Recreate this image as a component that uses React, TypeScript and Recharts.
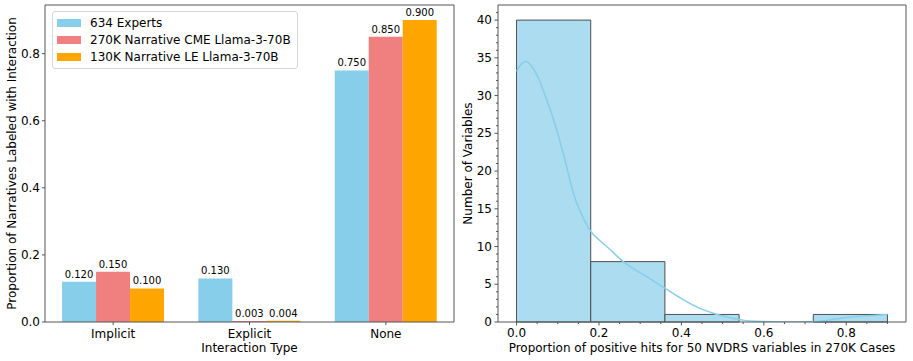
import React from 'react';
import { BarChart, Bar, XAxis, YAxis, Legend, LabelList, ComposedChart, Line, ReferenceArea } from 'recharts';

const FONT = '"DejaVu Sans", Verdana, sans-serif';
const AXIS = '#555';

// left panel: interaction type proportions
const categories = ['Implicit', 'Explicit', 'None'];
const seriesNames = ['634 Experts', '270K Narrative CME Llama-3-70B', '130K Narrative LE Llama-3-70B'];
const experts = [0.12, 0.13, 0.75];
const cmeLlama = [0.15, 0.003, 0.85];
const leLlama = [0.1, 0.004, 0.9];
const propTicks = [0, 0.2, 0.4, 0.6, 0.8];

// right panel: histogram + kde
const binEdges = [0, 0.18, 0.36, 0.54, 0.72, 0.9];
const binCounts = [40, 8, 1, 0, 1];
const kdeX = [0, 0.012, 0.023, 0.035, 0.054, 0.07, 0.087, 0.115, 0.14, 0.16, 0.18, 0.2, 0.225, 0.259, 0.31, 0.36, 0.4, 0.445, 0.477, 0.51, 0.542, 0.598, 0.65, 0.713, 0.75, 0.786, 0.84, 0.9];
const kdeY = [33.2, 34.2, 34.5, 34.0, 32.2, 29.9, 27.3, 22.0, 16.7, 14.0, 12.0, 10.9, 9.7, 8.0, 6.2, 4.5, 3.1, 1.8, 1.15, 0.65, 0.3, 0.05, 0.0, 0.03, 0.2, 0.5, 0.78, 1.0];
const hitMajorTicks = [0, 0.2, 0.4, 0.6, 0.8];
const countMajorTicks = [0, 5, 10, 15, 20, 25, 30, 35, 40];

// minor tick positions (0.05 on x, 1 on y)
const hitTicks = Array.from({ length: 19 }, (_, i) => Math.round(i * 5) / 100);
const countTicks = Array.from({ length: 42 }, (_, i) => i);

const barData = categories.map((name, i) => ({ name, experts: experts[i], cme: cmeLlama[i], le: leLlama[i] }));
const kdeData = kdeX.map((x, i) => ({ x, y: kdeY[i] }));

const LegendBox = ({ payload }: any) => {
  const items = [...(payload || [])].sort((a: any, b: any) => seriesNames.indexOf(a.value) - seriesNames.indexOf(b.value));
  return (
    <div style={{ border: '1px solid #d6d6d6', borderRadius: 3, background: 'rgba(255,255,255,0.85)', padding: '2px 6px 3px 4px', fontFamily: FONT, fontSize: 12, whiteSpace: 'nowrap' }}>
      {items.map((p: any) => (
        <div key={p.value} style={{ display: 'flex', alignItems: 'center', height: 17 }}>
          <span style={{ display: 'inline-block', width: 24, height: 8, background: p.color, marginRight: 9 }} />
          <span>{p.value}</span>
        </div>
      ))}
    </div>
  );
};

const isMajorHit = (v: number) => hitMajorTicks.some((t) => Math.abs(t - v) < 1e-6);

const HitTick = ({ x, y, payload }: any) => {
  const major = isMajorHit(payload.value);
  return (
    <g>
      <line x1={x} x2={x} y1={y} y2={y + (major ? 3.5 : 2)} stroke={AXIS} />
      {major && (
        <text x={x} y={y + 11} textAnchor="middle" dominantBaseline="central" fontSize={12} fontFamily={FONT} fill="#000">
          {payload.value.toFixed(1)}
        </text>
      )}
    </g>
  );
};

const CountTick = ({ x, y, payload }: any) => {
  const major = countMajorTicks.includes(payload.value);
  return (
    <g>
      <line x1={x} x2={x - (major ? 3.5 : 2)} y1={y} y2={y} stroke={AXIS} />
      {major && (
        <text x={x - 6} y={y} textAnchor="end" dominantBaseline="central" fontSize={12} fontFamily={FONT} fill="#000">
          {payload.value}
        </text>
      )}
    </g>
  );
};

const yTitle = (text: string, x: number) => (p: any) => {
  const vb = p.viewBox;
  const cy = vb.y + vb.height / 2;
  return (
    <text x={x} y={cy} transform={`rotate(-90 ${x} ${cy})`} textAnchor="middle" dominantBaseline="central" fontSize={12} fontFamily={FONT} fill="#000">
      {text}
    </text>
  );
};

const xTitle = (text: string, y: number) => (p: any) => {
  const vb = p.viewBox;
  return (
    <text x={vb.x + vb.width / 2} y={y} textAnchor="middle" dominantBaseline="central" fontSize={12} fontFamily={FONT} fill="#000">
      {text}
    </text>
  );
};

const fmt3 = (v: any) => Number(v).toFixed(3);
const labelStyle = { fontSize: 10, fontFamily: FONT, fill: '#000' };

export default function App() {
  return (
    <div style={{ position: 'relative', width: 913, height: 361, background: '#fff', fontFamily: FONT }}>
      <style>{'body{margin:0}'}</style>
      <div style={{ position: 'absolute', left: 0, top: 0 }}>
        <BarChart width={460} height={361} data={barData} margin={{ top: 4, right: 5, bottom: 0, left: 0 }} barCategoryGap="12.5%" barGap={0}>
          <XAxis dataKey="name" height={39} tickSize={3} tickMargin={4} stroke={AXIS} tick={{ fill: '#000', fontSize: 12, fontFamily: FONT }} label={xTitle('Interaction Type', 348)} />
          <XAxis xAxisId="top" dataKey="name" orientation="top" height={1} tick={false} tickLine={false} stroke={AXIS} />
          <YAxis domain={[0, 0.945]} ticks={propTicks} tickFormatter={(v: number) => v.toFixed(1)} width={45} tickSize={3} tickMargin={2} stroke={AXIS} tick={{ fill: '#000', fontSize: 12, fontFamily: FONT }} allowDataOverflow label={yTitle('Proportion of Narratives Labeled with Interaction', 12)} />
          <YAxis yAxisId="right" orientation="right" width={1} domain={[0, 0.945]} tick={false} tickLine={false} stroke={AXIS} />
          <Legend layout="vertical" align="center" verticalAlign="middle" wrapperStyle={{ left: 52, top: 11, width: 'auto', height: 'auto' }} content={LegendBox} />
          <Bar dataKey="experts" name={seriesNames[0]} fill="#87CEEB" isAnimationActive={false}>
            <LabelList dataKey="experts" position="top" offset={4} formatter={fmt3} style={labelStyle} />
          </Bar>
          <Bar dataKey="cme" name={seriesNames[1]} fill="#F08080" isAnimationActive={false}>
            <LabelList dataKey="cme" position="top" offset={4} formatter={fmt3} style={labelStyle} />
          </Bar>
          <Bar dataKey="le" name={seriesNames[2]} fill="#FFA500" isAnimationActive={false}>
            <LabelList dataKey="le" position="top" offset={4} formatter={fmt3} style={labelStyle} />
          </Bar>
        </BarChart>
      </div>
      <div style={{ position: 'absolute', left: 460, top: 0 }}>
        <ComposedChart width={453} height={361} data={kdeData} margin={{ top: 4, right: 6, bottom: 0, left: 0 }}>
          <XAxis dataKey="x" type="number" domain={[-0.045, 0.945]} ticks={hitTicks} interval={0} allowDataOverflow height={39} tickSize={0} tickMargin={0} tickLine={false} stroke={AXIS} tick={<HitTick />} label={xTitle('Proportion of positive hits for 50 NVDRS variables in 270K Cases', 348)} />
          <XAxis xAxisId="top" dataKey="x" type="number" orientation="top" domain={[-0.045, 0.945]} allowDataOverflow height={1} tick={false} tickLine={false} stroke={AXIS} />
          <YAxis type="number" domain={[0, 42]} ticks={countTicks} interval={0} allowDataOverflow width={38} tickSize={0} tickMargin={0} tickLine={false} stroke={AXIS} tick={<CountTick />} label={yTitle('Number of Variables', 8)} />
          <YAxis yAxisId="right" orientation="right" width={1} domain={[0, 42]} tick={false} tickLine={false} stroke={AXIS} />
          {binCounts.map((c, i) =>
            c > 0 ? (
              <ReferenceArea key={i} x1={binEdges[i]} x2={binEdges[i + 1]} y1={0} y2={c} fill="#ABDCF0" fillOpacity={1} stroke="#505050" strokeWidth={1} />
            ) : null
          )}
          <Line dataKey="y" type="monotone" stroke="#87CEEB" strokeWidth={1.5} dot={false} isAnimationActive={false} />
        </ComposedChart>
      </div>
    </div>
  );
}
